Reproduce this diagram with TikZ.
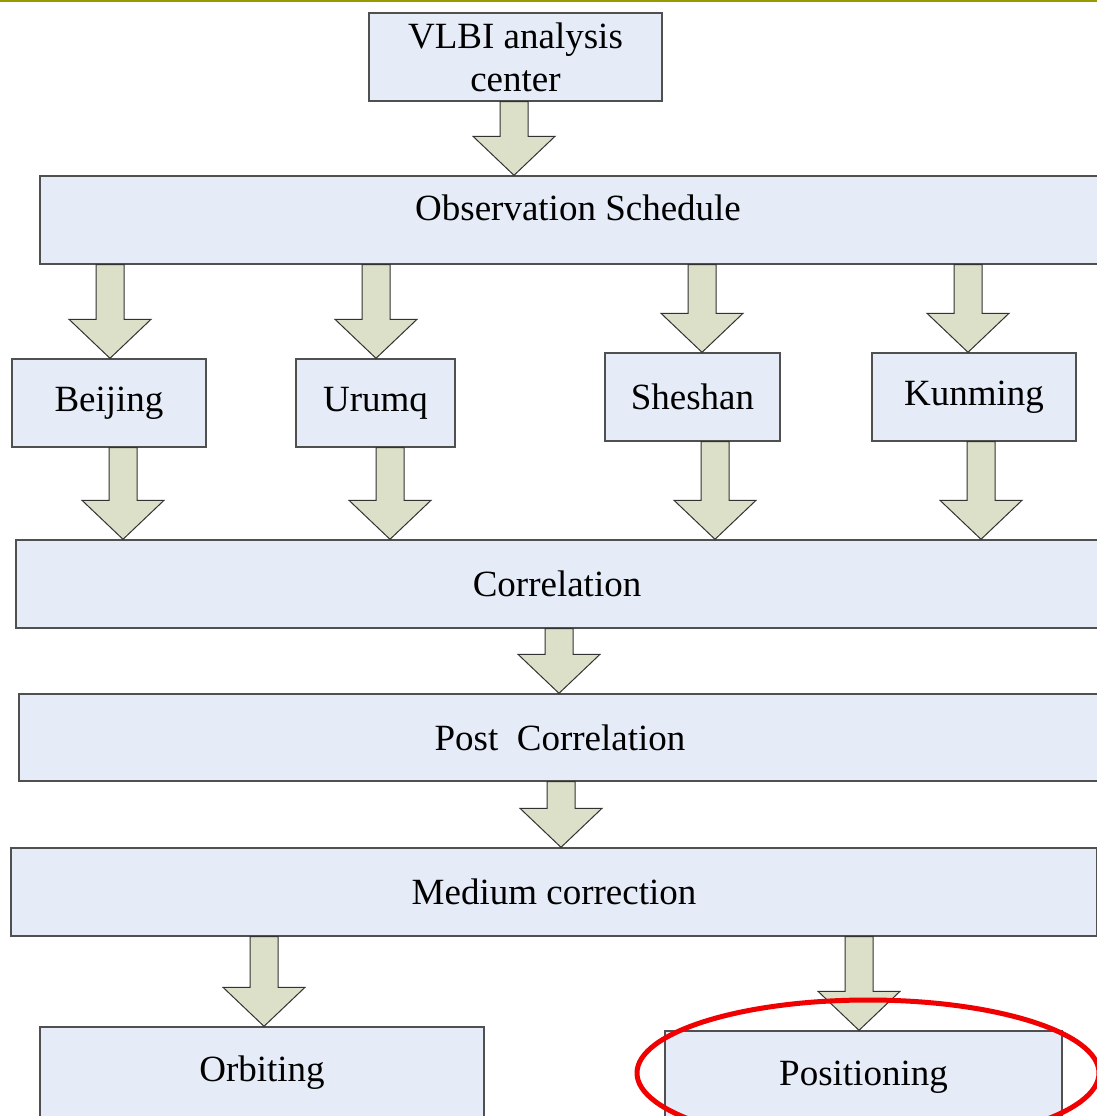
\documentclass[tikz,border=0pt]{standalone}
\usepackage{fontspec}
\setmainfont{Liberation Serif}
\usetikzlibrary{calc}
\definecolor{boxfill}{RGB}{230,236,247}
\definecolor{boxline}{RGB}{80,80,80}
\definecolor{arrowfill}{RGB}{220,224,200}
\definecolor{arrowline}{RGB}{50,50,50}
\definecolor{topline}{RGB}{153,153,0}
\definecolor{markred}{RGB}{240,0,0}
\tikzset{
  box/.style={draw=boxline, fill=boxfill, line width=1.4pt, rectangle, inner sep=0pt,
    font=\fontsize{37}{43}\selectfont, align=center},
  blockarrow/.style={draw=arrowline, fill=arrowfill, line width=1pt, line join=miter},
  markring/.style={draw=markred, line width=5pt}
}
\newcommand\flowarrow[3]{%
  \path[blockarrow] let \p1=(#1.south), \p2=(#2.north) in
    ({#3pt-14pt},\y1) -- ({#3pt-14pt},\y2+39pt) -- ({#3pt-41pt},\y2+39pt) --
    ({#3pt},\y2) -- ({#3pt+41pt},\y2+39pt) -- ({#3pt+14pt},\y2+39pt) --
    ({#3pt+14pt},\y1) -- cycle;}
\begin{document}
\begin{tikzpicture}[x=1pt,y=-1pt]
\useasboundingbox (0,0) rectangle (1097,1116);
\clip (0,0) rectangle (1097,1116);
\fill[white] (0,0) rectangle (1097,1116);
\fill[topline] (0,0) rectangle (1097,2.5);

\node[box, minimum width=293pt, minimum height=88pt] (vlbi) at (515.5,57) {VLBI analysis\\center};
\node[box, minimum width=1076pt, minimum height=88pt] (obs) at (578,220) {\raisebox{24pt}{Observation Schedule}};
\node[box, minimum width=194pt, minimum height=88pt] (bj) at (109,403) {Beijing};
\node[box, minimum width=159pt, minimum height=88pt] (ur) at (375.5,403) {Urumq};
\node[box, minimum width=175pt, minimum height=88pt] (sh) at (692.5,397) {Sheshan};
\node[box, minimum width=204pt, minimum height=88pt] (km) at (974,397) {Kunming};
\node[box, minimum width=1082pt, minimum height=88pt] (corr) at (557,584) {Correlation};
\node[box, minimum width=1082pt, minimum height=87pt] (post) at (560,737.5) {Post~ Correlation};
\node[box, minimum width=1086pt, minimum height=88pt] (med) at (554,892) {Medium correction};
\node[box, minimum width=444pt, minimum height=92pt] (orb) at (262,1073) {Orbiting};
\node[box, minimum width=397pt, minimum height=92pt] (pos) at (863.5,1077) {Positioning};

\flowarrow{vlbi}{obs}{514}
\flowarrow{obs}{bj}{110}
\flowarrow{obs}{ur}{376}
\flowarrow{obs}{sh}{702}
\flowarrow{obs}{km}{968}
\flowarrow{bj}{corr}{123}
\flowarrow{ur}{corr}{390}
\flowarrow{sh}{corr}{715}
\flowarrow{km}{corr}{981}
\flowarrow{corr}{post}{559}
\flowarrow{post}{med}{561}
\flowarrow{med}{orb}{264}
\flowarrow{med}{pos}{859}

\draw[markring] (868,1073) ellipse [x radius=231, y radius=73];
\end{tikzpicture}
\end{document}
